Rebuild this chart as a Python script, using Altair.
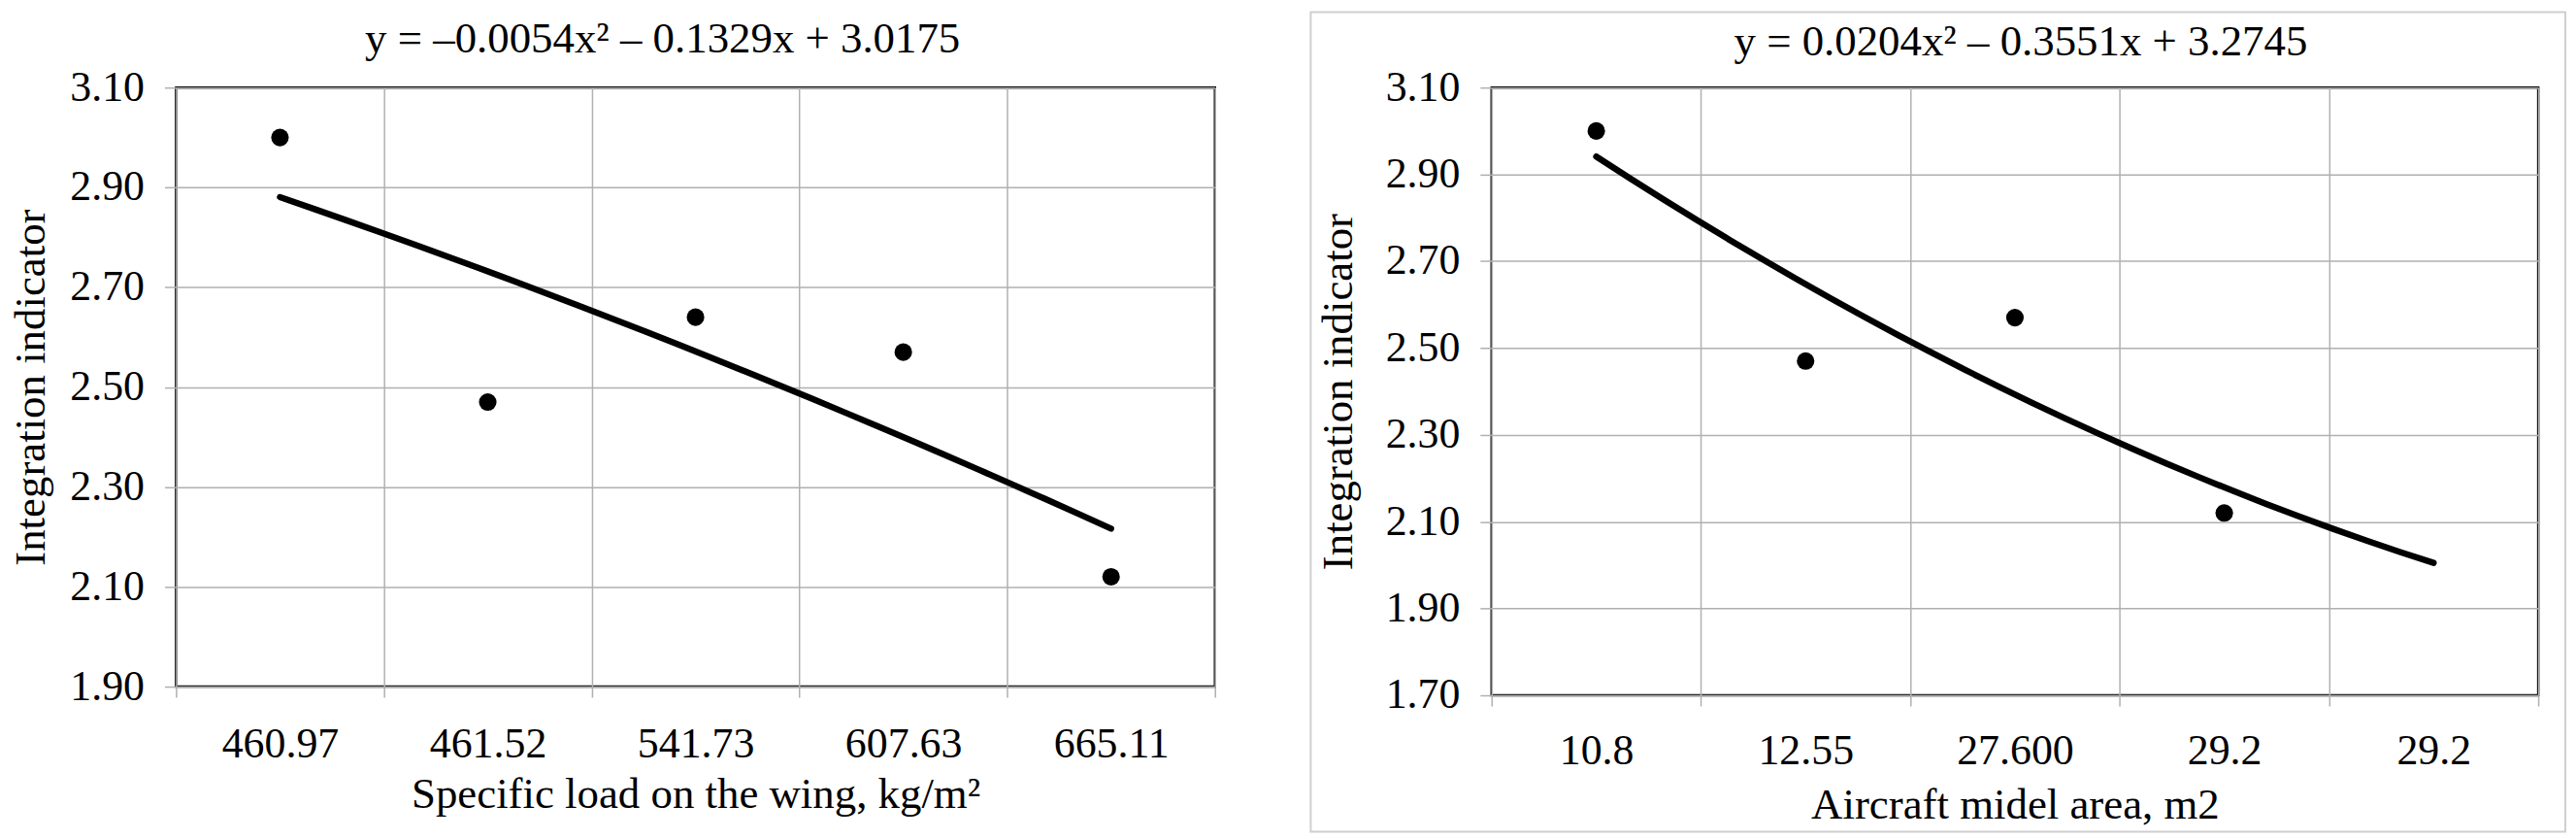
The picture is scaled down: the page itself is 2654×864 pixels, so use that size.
import json
import altair as alt
import pandas as pd

# ---------------- data ----------------
wing_labels = ["460.97", "461.52", "541.73", "607.63", "665.11"]
wing_values = [3.00, 2.47, 2.64, 2.57, 2.12]

midel_labels = ["10.8", "12.55", "27.600", "29.2", "29.2"]
midel_values = [3.00, 2.47, 2.57, 2.12]

left_yticks = [1.9, 2.1, 2.3, 2.5, 2.7, 2.9, 3.1]
right_yticks = [1.7, 1.9, 2.1, 2.3, 2.5, 2.7, 2.9, 3.1]

left_title = "y = \u20130.0054x\u00b2 \u2013 0.1329x + 3.0175"
right_title = "y = 0.0204x\u00b2 \u2013 0.3551x + 3.2745"
left_xtitle = "Specific load on the wing, kg/m\u00b2"
right_xtitle = "Aircraft midel area, m2"
y_title = "Integration indicator"

FONT = "Liberation Serif"
GRID = "#b0b0b0"
FS = 44


def panel(labels, values, yticks, title, xtitle, w, h, title_dx, title_off,
          frame_box, frame_visible, xlabel_pad, xtitle_pad, ytitle_pad):
    n = len(labels)
    df = pd.DataFrame({
        "idx": list(range(1, len(values) + 1)),
        "val": values,
    })
    xvals = [0.5 + 0.5 * i for i in range(2 * n + 1)]
    label_expr = ("datum.value % 1 !== 0 ? '' : "
                  + json.dumps(labels) + "[datum.value - 1]")
    half_only = {"condition": {"test": "datum.value % 1 === 0", "value": 0},
                 "value": 1}

    x_enc = alt.X(
        "idx:Q",
        scale=alt.Scale(domain=[0.5, n + 0.5], nice=False, zero=False),
        axis=alt.Axis(
            values=xvals, labelExpr=label_expr, title=xtitle,
            grid=True, gridColor=GRID, gridWidth=1.5, gridOpacity=half_only,
            ticks=True, tickSize=11, tickColor=GRID, tickWidth=1.5,
            tickOpacity=half_only, domain=False,
            labelPadding=xlabel_pad, titlePadding=xtitle_pad,
            labelOverlap=False, labelFlush=False,
        ),
    )
    y_enc = alt.Y(
        "val:Q",
        scale=alt.Scale(domain=[yticks[0], yticks[-1]], nice=False, zero=False),
        axis=alt.Axis(
            values=yticks, format=".2f", title=y_title,
            grid=True, gridColor=GRID, gridWidth=1.5,
            tickSize=12, tickColor=GRID, tickWidth=1.5, domain=False,
            labelPadding=21, titlePadding=ytitle_pad, labelOverlap=False,
            labelFlush=False,
        ),
    )

    base = alt.Chart(df)
    trend = base.transform_regression(
        "idx", "val", method="poly", order=2, extent=[1, n]
    ).mark_line(color="black", strokeWidth=6.5, strokeCap="round").encode(
        x=x_enc, y=y_enc
    )
    pts = base.mark_circle(color="black", opacity=1, size=330).encode(
        x="idx:Q", y="val:Q"
    )

    fx0, fx1, fy0, fy1 = frame_box
    frame = alt.Chart(pd.DataFrame({"k": [0]})).mark_rect(
        filled=False, color="#cfcfcf", strokeWidth=2,
        strokeOpacity=1 if frame_visible else 0,
    ).encode(
        x=alt.value(fx0), x2=alt.value(fx1),
        y=alt.value(fy0), y2=alt.value(fy1),
    )

    return alt.layer(frame, trend, pts).properties(
        width=w, height=h,
        title=alt.TitleParams(text=title, dx=title_dx, offset=title_off,
                              frame="group"),
    )


left = panel(wing_labels, wing_values, left_yticks, left_title, left_xtitle,
             1074, 619, -34, -51, (-168, 1123, -78, 769), False, 27, 7, 17)
right = panel(midel_labels, midel_values, right_yticks, right_title,
              right_xtitle, 1082, 628, 6, -55, (-187, 1110, -78, 769), True,
              25, 11, 26)

chart = alt.hconcat(left, right, spacing=45).properties(
    padding=0, background="white"
).configure(
    font=FONT,
).configure_view(
    stroke="black", strokeWidth=2.5,
).configure_axis(
    labelFont=FONT, titleFont=FONT, labelFontSize=FS, titleFontSize=45,
    labelColor="black", titleColor="black", titleFontWeight="normal",
).configure_title(
    font=FONT, fontSize=45, fontWeight="normal", color="black",
    anchor="middle",
)

chart.save("out.html", embed_options={"renderer": "svg", "actions": False})
